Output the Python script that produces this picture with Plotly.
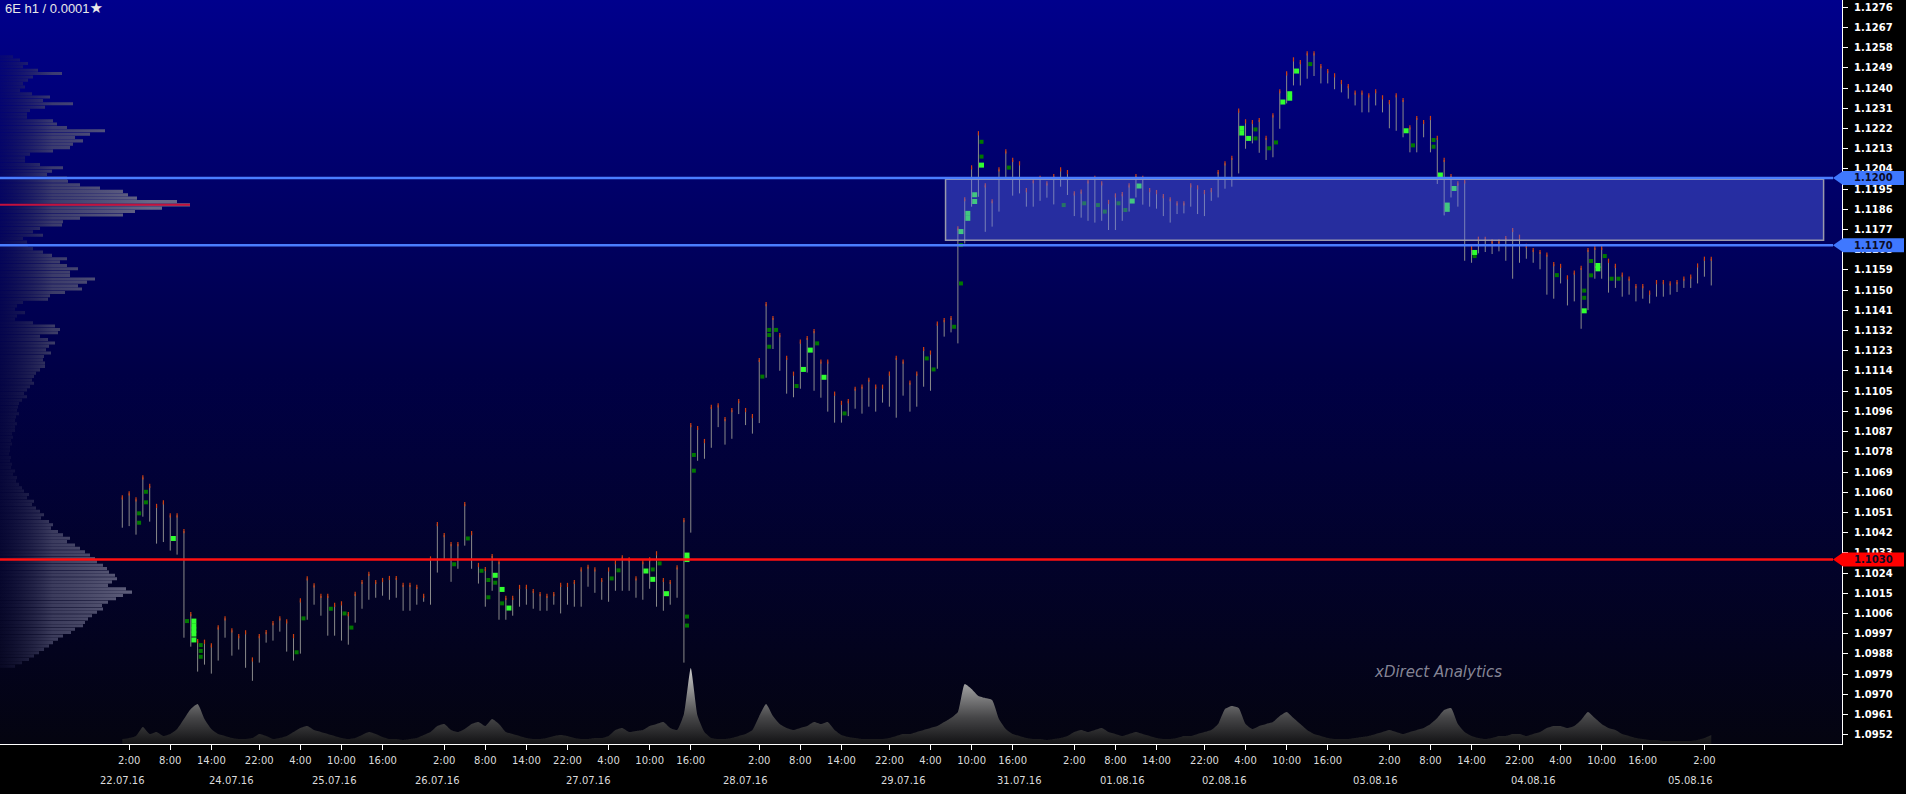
import plotly.graph_objects as go

# ---------------- DATA ----------------
highs = [
 1.10577, 1.10595, 1.10568, 1.10666, 1.10628, 1.10539, 1.10555, 1.10497, 1.10497, 1.10427,
 1.10057, 1.09937, 1.09934, 1.09918, 1.09998, 1.10038, 1.09985, 1.09959, 1.09976, 1.09855,
 1.09959, 1.09977, 1.10017, 1.10038, 1.10025, 1.09959, 1.10118, 1.10216, 1.10185, 1.10138,
 1.10138, 1.10098, 1.10105, 1.10057, 1.10147, 1.10200, 1.10236, 1.10200, 1.10209, 1.10218,
 1.10218, 1.10187, 1.10187, 1.10178, 1.10138, 1.10305, 1.10458, 1.10409, 1.10369, 1.10369,
 1.10547, 1.10418, 1.10276, 1.10258, 1.10316, 1.10289, 1.10129, 1.10129, 1.10178, 1.10178,
 1.10160, 1.10146, 1.10138, 1.10146, 1.10187, 1.10187, 1.10200, 1.10256, 1.10268, 1.10256,
 1.10209, 1.10256, 1.10288, 1.10310, 1.10301, 1.10216, 1.10288, 1.10301, 1.10328, 1.10209,
 1.10200, 1.10265, 1.10476, 1.10899, 1.10886, 1.10828, 1.10980, 1.10987, 1.10926, 1.10966,
 1.11006, 1.10966, 1.10939, 1.11189, 1.11438, 1.11376, 1.11300, 1.11198, 1.11128, 1.11271,
 1.11287, 1.11318, 1.11182, 1.11182, 1.11039, 1.10998, 1.11006, 1.11061, 1.11070, 1.11101,
 1.11070, 1.11070, 1.11128, 1.11198, 1.11182, 1.11088, 1.11128, 1.11238, 1.11222, 1.11351,
 1.11367, 1.11376, 1.11775, 1.11905, 1.12047, 1.12199, 1.11967, 1.11896, 1.12038, 1.12118,
 1.12080, 1.12065, 1.11946, 1.11986, 1.12000, 1.11976, 1.12008, 1.12038, 1.12026, 1.11931,
 1.11939, 1.11985, 1.12000, 1.11976, 1.11893, 1.11922, 1.11928, 1.11967, 1.12008, 1.12000,
 1.11946, 1.11937, 1.11919, 1.11905, 1.11887, 1.11887, 1.11967, 1.11958, 1.11937, 1.11946,
 1.12026, 1.12065, 1.12089, 1.12300, 1.12252, 1.12249, 1.12258, 1.12178, 1.12279, 1.12386,
 1.12466, 1.12528, 1.12516, 1.12555, 1.12555, 1.12498, 1.12476, 1.12457, 1.12427, 1.12409,
 1.12380, 1.12380, 1.12368, 1.12386, 1.12359, 1.12338, 1.12368, 1.12347, 1.12225, 1.12267,
 1.12249, 1.12267, 1.12178, 1.12080, 1.12008, 1.11976, 1.11985, 1.11688, 1.11729, 1.11729,
 1.11717, 1.11717, 1.11732, 1.11768, 1.11738, 1.11697, 1.11679, 1.11670, 1.11658, 1.11616,
 1.11608, 1.11557, 1.11578, 1.11599, 1.11679, 1.11688, 1.11688, 1.11631, 1.11608, 1.11569,
 1.11551, 1.11518, 1.11518, 1.11489, 1.11536, 1.11536, 1.11530, 1.11536, 1.11551, 1.11560,
 1.11610, 1.11640, 1.11640]

lows = [
 1.10442, 1.10449, 1.10411, 1.10491, 1.10469, 1.10371, 1.10378, 1.10340, 1.10322, 1.09952,
 1.09912, 1.09801, 1.09832, 1.09792, 1.09850, 1.09952, 1.09872, 1.09899, 1.09818, 1.09760,
 1.09841, 1.09930, 1.09939, 1.09979, 1.09890, 1.09850, 1.09881, 1.10032, 1.10099, 1.10050,
 1.09961, 1.09961, 1.09939, 1.09921, 1.10019, 1.10081, 1.10121, 1.10130, 1.10139, 1.10121,
 1.10130, 1.10072, 1.10072, 1.10099, 1.10112, 1.10099, 1.10242, 1.10301, 1.10201, 1.10259,
 1.10362, 1.10259, 1.10193, 1.10090, 1.10161, 1.10032, 1.10032, 1.10050, 1.10090, 1.10099,
 1.10081, 1.10072, 1.10072, 1.10099, 1.10060, 1.10099, 1.10090, 1.10090, 1.10179, 1.10152,
 1.10121, 1.10112, 1.10161, 1.10161, 1.10161, 1.10130, 1.10121, 1.10170, 1.10090, 1.10072,
 1.10099, 1.10130, 1.09841, 1.10420, 1.10740, 1.10749, 1.10798, 1.10890, 1.10812, 1.10838,
 1.10948, 1.10899, 1.10861, 1.10908, 1.11110, 1.11238, 1.11141, 1.11039, 1.11023, 1.11061,
 1.11133, 1.11052, 1.11021, 1.10959, 1.10910, 1.10910, 1.10939, 1.10972, 1.10950, 1.10981,
 1.10959, 1.10999, 1.10981, 1.10932, 1.11030, 1.10959, 1.10981, 1.11070, 1.11052, 1.11150,
 1.11293, 1.11312, 1.11263, 1.11708, 1.11872, 1.11916, 1.11760, 1.11783, 1.11850, 1.11994,
 1.11921, 1.11931, 1.11872, 1.11872, 1.11898, 1.11912, 1.11882, 1.11961, 1.11924, 1.11830,
 1.11823, 1.11809, 1.11801, 1.11809, 1.11768, 1.11768, 1.11809, 1.11850, 1.11913, 1.11881,
 1.11872, 1.11863, 1.11830, 1.11801, 1.11839, 1.11842, 1.11872, 1.11839, 1.11830, 1.11898,
 1.11913, 1.11952, 1.11961, 1.12020, 1.12130, 1.12154, 1.12112, 1.12080, 1.12092, 1.12219,
 1.12332, 1.12412, 1.12412, 1.12442, 1.12454, 1.12421, 1.12421, 1.12395, 1.12381, 1.12353,
 1.12323, 1.12292, 1.12292, 1.12323, 1.12292, 1.12221, 1.12210, 1.12181, 1.12114, 1.12114,
 1.12181, 1.12114, 1.11973, 1.11833, 1.11913, 1.11872, 1.11631, 1.11622, 1.11664, 1.11670,
 1.11661, 1.11673, 1.11631, 1.11551, 1.11622, 1.11640, 1.11622, 1.11593, 1.11480, 1.11462,
 1.11530, 1.11432, 1.11450, 1.11328, 1.11411, 1.11551, 1.11551, 1.11489, 1.11510, 1.11471,
 1.11480, 1.11450, 1.11462, 1.11441, 1.11471, 1.11471, 1.11480, 1.11492, 1.11510, 1.11510,
 1.11530, 1.11560, 1.11521]

# hourly volume (relative units)
volume = [
 5, 6, 8, 17, 10, 12, 8, 10, 15, 25,
 35, 40, 25, 15, 10, 8, 6, 5, 5, 6,
 10, 8, 5, 6, 8, 12, 16, 18, 14, 12,
 10, 8, 6, 5, 6, 9, 12, 10, 7, 5,
 5, 4, 5, 6, 9, 12, 18, 20, 14, 12,
 15, 20, 22, 18, 25, 20, 12, 10, 8, 6,
 5, 5, 6, 8, 9, 8, 6, 5, 5, 6,
 6, 8, 14, 16, 12, 13, 14, 18, 20, 22,
 16, 14, 30, 76, 28, 12, 6, 5, 5, 6,
 8, 10, 14, 28, 40, 28, 20, 16, 14, 16,
 18, 22, 20, 22, 14, 9, 7, 6, 5, 5,
 5, 5, 6, 8, 10, 10, 12, 14, 16, 18,
 22, 26, 32, 60, 55, 48, 46, 44, 25, 15,
 10, 8, 6, 5, 5, 4, 5, 6, 8, 12,
 14, 12, 14, 16, 12, 10, 8, 10, 12, 10,
 8, 6, 5, 5, 6, 8, 8, 10, 12, 14,
 20, 35, 38, 36, 20, 15, 18, 20, 22, 28,
 32, 26, 20, 14, 10, 8, 6, 5, 5, 5,
 6, 7, 8, 10, 12, 14, 12, 10, 12, 14,
 16, 20, 26, 34, 36, 20, 12, 8, 6, 5,
 6, 8, 8, 10, 10, 8, 10, 12, 16, 18,
 18, 16, 18, 24, 32, 26, 20, 16, 14, 10,
 8, 6, 5, 4, 4, 3, 3, 3, 3, 3,
 4, 6, 9]

# max-volume clusters per bar: (bar index, price)
clusters_bright = [
 (7, 1.10394), (10, 1.10026), (10, 1.10005), (10, 1.09986), (10, 1.09968), (10, 1.09942),
 (54, 1.10230), (55, 1.10167), (56, 1.10084), (76, 1.10249), (77, 1.10212), (79, 1.10148),
 (82, 1.10320), (82, 1.10300), (99, 1.11147), (100, 1.11233), (102, 1.11112),
 (122, 1.11761), (123, 1.11842), (123, 1.11820), (124, 1.11925), (124, 1.11895), (125, 1.12057),
 (147, 1.11897), (148, 1.11964), (163, 1.12221), (163, 1.12200), (164, 1.12176),
 (169, 1.12338), (170, 1.12355), (170, 1.12375), (171, 1.12476), (187, 1.12210),
 (192, 1.12013), (193, 1.11879), (193, 1.11860), (194, 1.11953), (197, 1.11668),
 (213, 1.11408), (215, 1.11610), (215, 1.11595)]
clusters_dark = [
 (2, 1.10506), (2, 1.10464), (3, 1.10602), (3, 1.10555), (9, 1.10026), (11, 1.09919),
 (11, 1.09893), (11, 1.09867), (25, 1.09887), (26, 1.10038), (30, 1.10081), (32, 1.10060),
 (33, 1.09997), (48, 1.10279), (50, 1.10394), (52, 1.10250), (53, 1.10209), (53, 1.10132),
 (54, 1.10197), (55, 1.10105), (71, 1.10216), (72, 1.10252), (77, 1.10256), (78, 1.10283),
 (82, 1.10046), (82, 1.10006), (83, 1.10766), (83, 1.10696), (93, 1.11115), (94, 1.11323),
 (94, 1.11300), (94, 1.11248), (95, 1.11323), (98, 1.11073), (101, 1.11263), (105, 1.10951),
 (117, 1.11196), (118, 1.11147), (121, 1.11337), (122, 1.11701), (122, 1.11530),
 (125, 1.12161), (125, 1.12095), (129, 1.12046), (137, 1.11879), (140, 1.11887),
 (142, 1.11879), (143, 1.11850), (145, 1.11887), (146, 1.11857), (165, 1.12216),
 (165, 1.12176), (167, 1.12132), (168, 1.12158), (173, 1.12507), (188, 1.12145),
 (191, 1.12169), (191, 1.12139), (197, 1.11652), (209, 1.11567), (213, 1.11498),
 (213, 1.11466), (214, 1.11630), (214, 1.11566), (216, 1.11652), (217, 1.11551), (218, 1.11551)]

# volume profile (whole period), rows from the top price level downwards
profile_top_price = 1.12540
profile_row = 0.00015
profile = [
 13, 20, 28, 23, 38, 62, 33, 28, 23, 25,
 20, 32, 50, 43, 73, 45, 30, 27, 27, 53,
 57, 67, 105, 90, 75, 83, 73, 70, 53, 30,
 25, 25, 40, 63, 52, 47, 67, 68, 80, 100,
 123, 128, 137, 177, 190, 162, 135, 123, 80, 63,
 62, 40, 33, 43, 23, 27, 28, 33, 43, 52,
 67, 60, 67, 78, 70, 70, 95, 87, 78, 82,
 65, 50, 48, 23, 17, 15, 25, 17, 15, 33,
 55, 60, 58, 40, 48, 55, 49, 46, 51, 44,
 43, 45, 45, 40, 36, 34, 32, 34, 30, 27,
 24, 27, 22, 19, 18, 17, 19, 16, 15, 17,
 15, 15, 12, 13, 11, 12, 10, 10, 9, 11,
 10, 12, 11, 15, 13, 17, 16, 19, 22, 24,
 29, 27, 34, 32, 36, 40, 44, 41, 49, 53,
 51, 58, 63, 70, 67, 75, 80, 85, 90, 95,
 97, 103, 107, 109, 115, 117, 112, 108, 126, 132,
 123, 116, 108, 102, 103, 97, 92, 88, 85, 83,
 75, 71, 63, 58, 53, 49, 44, 39, 34, 29,
 22, 15]

# key levels
level_prices = [1.1200, 1.1170, 1.1030]
level_colors = ["#4a7dff", "#4a7dff", "#ff1010"]
level_tag_colors = ["#3f78ff", "#3f78ff", "#ff0000"]

# zone (bar index span, price span)
zone_start, zone_end = 120.2, 248.4
zone_low, zone_high = 1.11722, 1.11994

# axis labels
y_tick_labels = ["1.1276", "1.1267", "1.1258", "1.1249", "1.1240", "1.1231", "1.1222",
                 "1.1213", "1.1204", "1.1195", "1.1186", "1.1177", "1.1168", "1.1159",
                 "1.1150", "1.1141", "1.1132", "1.1123", "1.1114", "1.1105", "1.1096",
                 "1.1087", "1.1078", "1.1069", "1.1060", "1.1051", "1.1042", "1.1033",
                 "1.1024", "1.1015", "1.1006", "1.0997", "1.0988", "1.0979", "1.0970",
                 "1.0961", "1.0952"]
time_tick_idx = [1, 7, 13, 20, 26, 32, 38, 47, 53, 59, 65, 71, 77, 83, 93, 99, 105, 112,
                 118, 124, 130, 139, 145, 151, 158, 164, 170, 176, 185, 191, 197, 204,
                 210, 216, 222, 231]
time_tick_text = ["2:00", "8:00", "14:00", "22:00", "4:00", "10:00", "16:00"] * 5 + ["2:00"]
date_idx = [0, 16, 31, 46, 68, 91, 114, 131, 146, 161, 183, 206, 229]
date_text = ["22.07.16", "24.07.16", "25.07.16", "26.07.16", "27.07.16", "28.07.16",
             "29.07.16", "31.07.16", "01.08.16", "02.08.16", "03.08.16", "04.08.16",
             "05.08.16"]

# ---------------- FIGURE ----------------
W, H = 1906, 794
ML, MR, MT, MB = 0, 64, 0, 50
PW = W - ML - MR          # 1842
PH = H - MT - MB          # 744
n = len(highs)
idx = list(range(n))

fig = go.Figure()

# background gradient (base subplot)
fig.add_trace(go.Scatter(
    x=[0, 1, 1, 0, 0], y=[0, 0, 1, 1, 0], xaxis="x", yaxis="y",
    mode="lines", line=dict(width=0), fill="toself",
    fillgradient=dict(type="vertical", start=0, stop=1,
                      colorscale=[[0, "rgb(4,4,16)"], [0.5, "rgb(0,0,70)"], [1, "rgb(0,0,140)"]]),
    hoverinfo="skip", showlegend=False))

# volume profile (left)
px_, py_ = [], []
for k, v in enumerate(profile):
    p = profile_top_price - k * profile_row
    lo, hi = p - 0.45 * profile_row, p + 0.45 * profile_row
    px_ += [0, v, v, 0, 0, None]
    py_ += [lo, lo, hi, hi, lo, None]
fig.add_trace(go.Scatter(
    x=px_, y=py_, xaxis="x3", yaxis="y2", mode="lines", line=dict(width=0),
    fill="toself",
    fillgradient=dict(type="horizontal", start=0, stop=150,
                      colorscale=[[0, "rgba(30,30,70,0.2)"], [0.35, "rgba(78,78,110,0.75)"],
                                  [1, "rgba(112,112,138,0.92)"]]),
    hoverinfo="skip", showlegend=False))
kmax = max(range(len(profile)), key=lambda k: profile[k])
poc = profile_top_price - kmax * profile_row
fig.add_trace(go.Scatter(
    x=[0, profile[kmax]], y=[poc, poc], xaxis="x3", yaxis="y2", mode="lines",
    line=dict(color="#c4103c", width=2), hoverinfo="skip", showlegend=False))

# volume area (bottom)
fig.add_trace(go.Scatter(
    x=idx, y=volume, xaxis="x2", yaxis="y3", mode="lines",
    line=dict(width=0, shape="spline", smoothing=0.5), fill="tozeroy",
    fillgradient=dict(type="vertical", start=0, stop=76,
                      colorscale=[[0, "rgb(18,18,20)"], [0.35, "rgb(70,70,72)"], [1, "rgb(205,205,205)"]]),
    hoverinfo="skip", showlegend=False))

# price bars (high-low)
bx, by = [], []
for i in idx:
    bx += [i, i, None]
    by += [lows[i], highs[i], None]
fig.add_trace(go.Scatter(
    x=bx, y=by, xaxis="x2", yaxis="y2", mode="lines",
    line=dict(color="rgb(138,138,138)", width=1), hoverinfo="skip", showlegend=False))
fig.add_trace(go.Scatter(
    x=idx, y=highs, xaxis="x2", yaxis="y2", mode="markers",
    marker=dict(symbol="line-ns", size=3, line=dict(color="#d04010", width=1.2)),
    hoverinfo="skip", showlegend=False))

# clusters
fig.add_trace(go.Scatter(
    x=[c[0] + 0.45 for c in clusters_dark], y=[c[1] for c in clusters_dark],
    xaxis="x2", yaxis="y2", mode="markers",
    marker=dict(symbol="square", size=4, color="#007800", line=dict(width=0)),
    hoverinfo="skip", showlegend=False))
fig.add_trace(go.Scatter(
    x=[c[0] + 0.45 for c in clusters_bright], y=[c[1] for c in clusters_bright],
    xaxis="x2", yaxis="y2", mode="markers",
    marker=dict(symbol="square", size=5, color="#30ff30", line=dict(width=0)),
    hoverinfo="skip", showlegend=False))

# ---------------- axes ----------------
bar_px = 6.849
first_px = 122.3
x_range = [-first_px / bar_px, (PW - first_px) / bar_px]
y_top = 1.1276 + 7.3 / 22450
y_bot = 1.1276 - (PH - 7.3) / 22450

tickfont_y = dict(family="DejaVu Sans", size=10, color="white", weight="bold")
tickfont_x = dict(family="DejaVu Sans", size=10, color="#dcdcdc")

shapes = []
# zone rectangle
shapes.append(dict(type="rect", xref="x2", yref="y2", x0=zone_start, x1=zone_end,
                   y0=zone_low, y1=zone_high, layer="above",
                   fillcolor="rgba(95,112,250,0.40)",
                   line=dict(color="rgba(160,160,175,0.95)", width=1.5)))
tip = 1833.0 / PW
shoulder = 1843.0 / PW
right_end = 1904.0 / PW
half = 7.0 / 22450
annotations = []
for p, c, tc in zip(level_prices, level_colors, level_tag_colors):
    shapes.append(dict(type="line", xref="paper", yref="y2", x0=0, x1=tip, y0=p, y1=p,
                       layer="above", line=dict(color=c, width=2.5)))
    path = (f"M {tip},{p} L {shoulder},{p + half} L {right_end},{p + half} "
            f"L {right_end},{p - half} L {shoulder},{p - half} Z")
    shapes.append(dict(type="path", xref="paper", yref="y2", path=path, layer="above",
                       fillcolor=tc, line=dict(width=0)))
    annotations.append(dict(xref="paper", yref="y2", x=1852.0 / PW, y=p, xanchor="left",
                            yanchor="middle", showarrow=False, text=f"{p:.4f}",
                            font=dict(family="DejaVu Sans", size=10, color="#0c0c28",
                                      weight="bold")))

for d, t in zip(date_idx, date_text):
    annotations.append(dict(xref="x2", yref="paper", x=d, y=-36.0 / PH, xanchor="center",
                            yanchor="middle", showarrow=False, text=t, font=tickfont_x))

annotations.append(dict(xref="paper", yref="paper", x=3.0 / PW, y=1 - 7.5 / PH,
                        xanchor="left", yanchor="middle", showarrow=False,
                        text="6E h1 / 0.0001<span style='font-family:DejaVu Sans;font-size:15px'>★</span>",
                        font=dict(family="Liberation Sans", size=13, color="#e8e8e8")))
annotations.append(dict(xref="paper", yref="paper", x=1438.0 / PW, y=1 - 672.0 / PH,
                        xanchor="center", yanchor="middle", showarrow=False,
                        text="xDirect Analytics",
                        font=dict(family="DejaVu Sans", size=15, color="rgba(150,150,165,0.9)",
                                  style="italic")))

fig.update_layout(
    width=W, height=H, margin=dict(l=ML, r=MR, t=MT, b=MB, pad=0, autoexpand=False),
    paper_bgcolor="black", plot_bgcolor="black", showlegend=False, hovermode=False,
    xaxis=dict(domain=[0, 1], range=[0, 1], visible=False, fixedrange=True, automargin=False),
    yaxis=dict(domain=[0, 1], range=[0, 1], visible=False, fixedrange=True, automargin=False),
    xaxis2=dict(overlaying="x", anchor="y2", range=x_range, showgrid=False, zeroline=False,
                showline=True, linecolor="white", linewidth=1, ticks="outside", ticklen=5,
                tickcolor="white", tickwidth=1, tickmode="array", tickvals=time_tick_idx,
                ticktext=time_tick_text, tickfont=tickfont_x, ticklabelstandoff=2,
                automargin=False),
    yaxis2=dict(overlaying="y", anchor="x2", side="right", range=[y_bot, y_top],
                showgrid=False, zeroline=False, showline=True, linecolor="white", linewidth=1,
                ticks="outside", ticklen=5, tickcolor="white", tickwidth=1, tickmode="array",
                tickvals=[float(t) for t in y_tick_labels], ticktext=y_tick_labels,
                tickfont=tickfont_y, ticklabelstandoff=4, automargin=False),
    xaxis3=dict(overlaying="x", anchor="y2", range=[0, PW], visible=False, automargin=False),
    yaxis3=dict(overlaying="y", anchor="x2", range=[0, PH], visible=False, automargin=False),
    shapes=shapes, annotations=annotations,
)

fig.write_html("out.html",
               config={"displayModeBar": False, "staticPlot": True},
               post_script="document.body.style.margin='0';document.body.style.padding='0';"
                           "document.body.style.overflow='hidden';"
                           "document.body.style.background='black';")
